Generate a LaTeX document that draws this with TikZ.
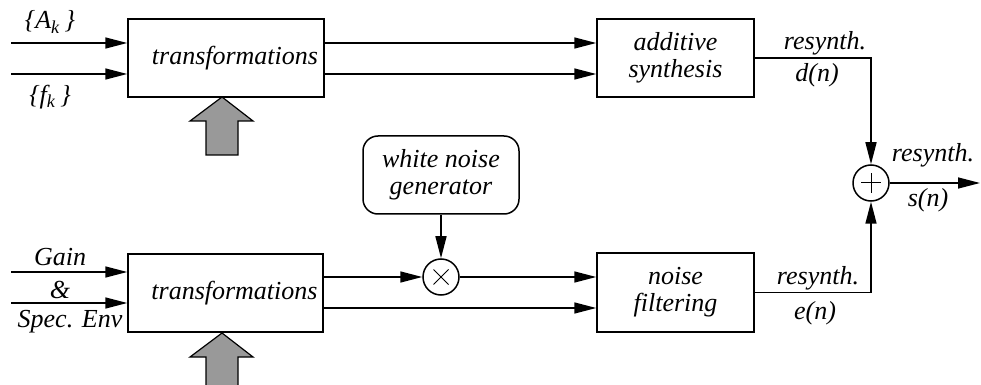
\documentclass[tikz,border=0pt]{standalone}
\usepackage{fontspec}
\setmainfont{Liberation Serif}
\usetikzlibrary{arrows.meta}
\definecolor{arrowgray}{RGB}{153,153,153}
\begin{document}
\begin{tikzpicture}[x=0.5pt,y=-0.5pt,
  every node/.style={font=\fontsize{13}{13.5}\selectfont\itshape},
  blockbox/.style={draw,line width=0.75pt,inner sep=0pt,align=center},
  opcircle/.style={draw,circle,line width=0.75pt,inner sep=0pt,minimum size=18pt},
  conn/.style={line width=0.75pt},
  arr/.style={conn,-{Triangle[length=11pt,width=5.5pt]}},
  lbl/.style={inner sep=0pt},
  bigarrow/.style={draw,line width=0.6pt,fill=arrowgray}]
\useasboundingbox (0,0) rectangle (981,385);
% blocks
\node[blockbox,minimum width=98pt,minimum height=39pt] (T1) at (226,58) {\hspace*{9pt}transformations};
\node[blockbox,minimum width=97.5pt,minimum height=39pt] (T2) at (225.5,293) {\hspace*{9pt}transformations};
\node[blockbox,minimum width=78.5pt,minimum height=39pt] (AS) at (675.5,58) {additive\\synthesis};
\node[blockbox,minimum width=78.5pt,minimum height=39.5pt] (NF) at (675.5,292.5) {noise\\filtering};
\node[blockbox,rounded corners=7.5pt,minimum width=78pt,minimum height=39pt] (WN) at (441,175) {white noise\\generator};
\node[opcircle] (mult) at (441,277) {};
\node[opcircle] (plus) at (871,183) {};
\draw[line width=0.5pt] ([shift={(-7.5,-7.5)}]mult.center) -- ([shift={(7.5,7.5)}]mult.center)
  ([shift={(-7.5,7.5)}]mult.center) -- ([shift={(7.5,-7.5)}]mult.center);
\draw[line width=0.5pt] ([xshift=-5pt]plus.center) -- ([xshift=5pt]plus.center)
  ([yshift=-5pt]plus.center) -- ([yshift=5pt]plus.center);
% input coordinates
\coordinate (a1) at (11,43);
\coordinate (a2) at (11,74);
\coordinate (b1) at (11,277);
\coordinate (b2) at (11,308);
\coordinate (g1) at (11,272);
\coordinate (g2) at (11,303);
\coordinate (out) at (980,183);
% inputs
\draw[arr] (a1) -- (a1 -| T1.west);
\draw[arr] (a2) -- (a2 -| T1.west);
\draw[arr] (g1) -- (g1 -| T2.west);
\draw[arr] (g2) -- (g2 -| T2.west);
% top path
\draw[arr] (a1 -| T1.east) -- (a1 -| AS.west);
\draw[arr] (a2 -| T1.east) -- (a2 -| AS.west);
% bottom path
\draw[arr] (b1 -| T2.east) -- (mult.west);
\draw[arr] (mult.east) -- (b1 -| NF.west);
\draw[arr] (b2 -| T2.east) -- (b2 -| NF.west);
\draw[arr] (WN.south) -- (mult.north);
% to adder
\draw[arr] (AS.east) -| (plus.north);
\draw[arr] (NF.east) -| (plus.south);
\draw[arr] (plus.east) -- (out);
% gray arrows
\draw[bigarrow] (222,97) -- (253,121) -- (238,121) -- (238,155) -- (206,155) -- (206,121) -- (190,121) -- cycle;
\draw[bigarrow] (222,333) -- (253,357) -- (238,357) -- (238,390) -- (206,390) -- (206,357) -- (190,357) -- cycle;
% labels
\node[lbl] (lA) at (50,22) {\{A\textsubscript{k}\,\}};
\node[lbl] (lF) at (50,97) {\{f\textsubscript{k}\,\}};
\node[lbl] (lG) at (60,257) {Gain};
\node[lbl] (lAmp) at (60,290) {\&};
\node[lbl] (lS) at (70,322) {Spec. Env};
\node[lbl] (r1) at (825,43) {resynth.};
\node[lbl] (d) at (817,75) {d(n)};
\node[lbl] (r2) at (818,278) {resynth.};
\node[lbl] (e) at (815,313) {e(n)};
\node[lbl] (r3) at (933,155) {resynth.};
\node[lbl] (s) at (928,200) {s(n)};
\end{tikzpicture}
\end{document}
